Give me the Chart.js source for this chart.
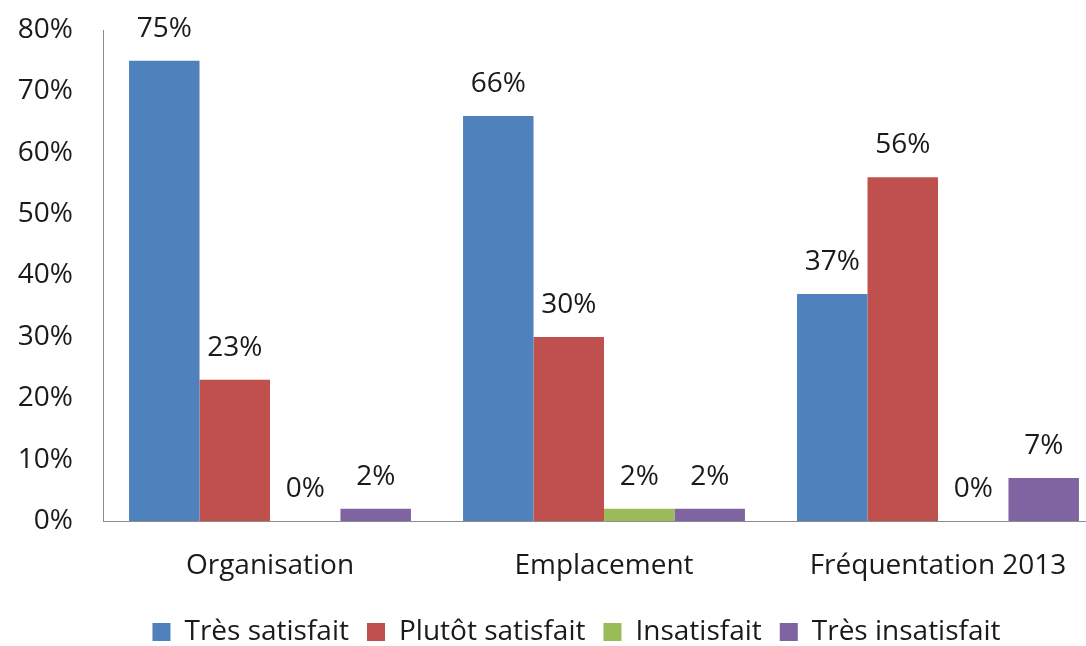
<!DOCTYPE html>
<html>
<head>
<meta charset="utf-8">
<script src="https://cdn.jsdelivr.net/npm/chart.js@4.4.1/dist/chart.umd.min.js"></script>
<style>
  html, body { margin: 0; padding: 0; background: #fff; overflow: hidden; }
  #wrap { width: 1106px; height: 646px; }
</style>
</head>
<body>
<div id="wrap"><canvas id="graph"></canvas></div>
<script>
"use strict";

// categories and series (values in %)
const categories = ["Organisation", "Emplacement", "Fréquentation 2013"];
const series_names = ["Très satisfait", "Plutôt satisfait", "Insatisfait", "Très insatisfait"];
const tres_satisfait = [75, 66, 37];
const plutot_satisfait = [23, 30, 56];
const insatisfait = [0, 2, 0];
const tres_insatisfait = [2, 2, 7];
const y_min = 0;
const y_max = 80;
const y_step = 10;

const colors = ["#4f81bd", "#c0504d", "#9bbb59", "#8064a2"];
const font_family = "'Open Sans', Lato, sans-serif";
const font_size = 28;
const legend_dx = 24;
const legend_dy = 10;

// draws "xx%" above every bar
const value_labels = {
  id: "value_labels",
  afterDatasetsDraw(chart) {
    const ctx = chart.ctx;
    ctx.save();
    ctx.font = font_size + "px " + font_family;
    ctx.fillStyle = "#1a1a1a";
    ctx.textAlign = "center";
    ctx.textBaseline = "middle";
    chart.data.datasets.forEach((ds, i) => {
      chart.getDatasetMeta(i).data.forEach((bar, j) => {
        ctx.fillText(ds.data[j] + "%", bar.x, bar.y - 32);
      });
    });
    ctx.restore();
  },
};

// nudges the legend to where the original sits
const legend_shift = {
  id: "legend_shift",
  afterLayout(chart) {
    const lg = chart.legend;
    lg.left += legend_dx;
    lg.right += legend_dx;
    lg.top += legend_dy;
    lg.bottom += legend_dy;
  },
};

const all_values = [tres_satisfait, plutot_satisfait, insatisfait, tres_insatisfait];

const config = {
  type: "bar",
  data: {
    labels: categories,
    datasets: all_values.map((values, i) => ({
      label: series_names[i],
      data: values,
      backgroundColor: colors[i],
      borderWidth: 0,
      barPercentage: 1.0,
      categoryPercentage: 0.844,
    })),
  },
  options: {
    responsive: true,
    maintainAspectRatio: false,
    animation: false,
    layout: { padding: { top: 30, right: 1, left: 0, bottom: 0 } },
    scales: {
      x: {
        grid: { display: false },
        border: { display: true, color: "#8c8c8c", width: 1 },
        ticks: {
          color: "#1a1a1a",
          padding: 20,
          font: { family: font_family, size: font_size },
        },
        afterFit(scale) {
          scale.height = 69;
        },
      },
      y: {
        min: y_min,
        max: y_max,
        grid: { display: false },
        border: { display: true, color: "#8c8c8c", width: 1 },
        ticks: {
          stepSize: y_step,
          color: "#1a1a1a",
          padding: 22,
          font: { family: font_family, size: font_size },
          callback: function (value) {
            return value + "%";
          },
        },
        afterFit(scale) {
          scale.width = 103;
          scale.paddingTop = 0;
          scale.paddingBottom = 0;
        },
      },
    },
    plugins: {
      tooltip: { enabled: false },
      legend: {
        position: "bottom",
        labels: {
          color: "#1a1a1a",
          boxWidth: 18,
          boxHeight: 18,
          padding: 18,
          font: { family: font_family, size: font_size },
        },
      },
    },
  },
  plugins: [value_labels, legend_shift],
};

new Chart(document.getElementById("graph"), config);
</script>
</body>
</html>
